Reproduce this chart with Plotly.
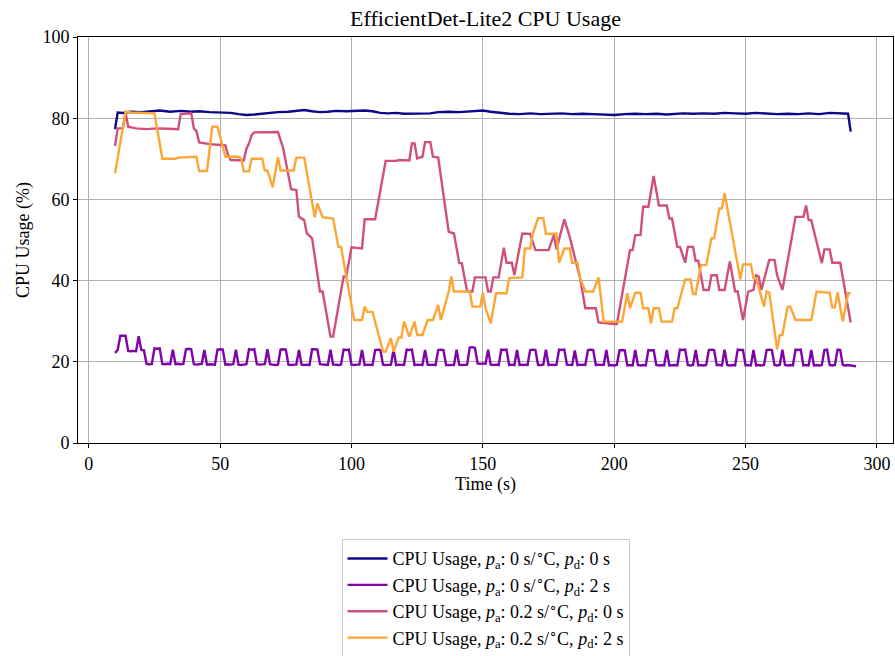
import plotly.graph_objects as go

# ---- series: pa = 0 s/°C, pd = 0 s (sampled vertices) ----
t_pa0_pd0 = [10, 11, 13, 16, 20, 24, 27, 31, 35, 39, 42, 46, 50, 54, 57, 60, 63, 67, 72, 76,
             80, 82, 85, 88, 91, 94, 98, 101, 105, 108, 111, 114, 117, 120, 124, 127, 130, 133,
             137, 141, 145, 148, 150, 153, 157, 160, 164, 168, 172, 176, 180, 184, 188, 192, 196,
             200, 204, 208, 212, 216, 220, 222, 226, 230, 234, 238, 242, 246, 250, 254, 258, 262,
             266, 270, 274, 278, 282, 286, 289, 290]
cpu_pa0_pd0 = [77.3, 81.4, 81.3, 81.6, 81.5, 81.8, 81.9, 81.6, 81.8, 81.6, 81.7, 81.5, 81.4, 81.3,
               81.0, 80.8, 80.9, 81.2, 81.5, 81.6, 81.8, 82.0, 81.7, 81.5, 81.6, 81.8, 81.7, 81.8,
               81.9, 81.7, 81.3, 81.2, 81.3, 81.1, 81.2, 81.3, 81.2, 81.5, 81.6, 81.5, 81.6, 81.8,
               81.9, 81.6, 81.3, 81.1, 81.0, 81.2, 81.0, 81.1, 81.2, 81.0, 81.1, 81.0, 80.9, 80.8,
               81.0, 81.1, 81.0, 81.1, 80.9, 81.0, 81.2, 81.1, 81.2, 81.1, 81.3, 81.2, 81.1, 81.3,
               81.2, 81.0, 81.1, 81.0, 81.2, 81.0, 81.3, 81.2, 81.1, 76.7]

# ---- series: pa = 0 s/°C, pd = 2 s (one sample per second from t = 10 s) ----
t_start_pa0_pd2 = 10
cpu_pa0_pd2 = [
    22.2, 22.9, 26.4, 26.4, 26.4, 22.7, 22.6, 22.7, 22.6, 26.3, 22.9, 22.8, 19.5, 19.4, 19.5,
    23.3, 23.2, 23.3, 19.5, 19.4, 19.5, 19.4, 23.0, 19.4, 19.5, 19.4, 19.5,
    23.1, 23.2, 23.1, 19.4, 19.3, 19.4, 19.5, 22.9, 19.3, 19.4, 19.4, 19.3,
    23.0, 23.1, 23.0, 19.3, 19.4, 19.3, 19.4, 23.0, 19.3, 19.2, 19.3, 19.4,
    23.1, 23.0, 23.1, 19.4, 19.3, 19.3, 19.4, 23.1, 19.4, 19.3, 19.2, 19.3,
    23.0, 23.1, 23.0, 19.3, 19.2, 19.3, 19.3, 22.9, 19.3, 19.2, 19.3, 19.2,
    23.1, 23.1, 23.0, 19.4, 19.3, 19.3, 19.2, 23.0, 19.3, 19.3, 19.2, 19.3,
    23.0, 22.9, 23.0, 19.3, 19.2, 19.3, 19.3, 22.9, 19.2, 19.3, 19.3, 19.2,
    22.9, 23.0, 22.9, 19.3, 19.2, 19.2, 19.3, 23.0, 19.2, 19.3, 19.2, 19.2,
    23.0, 22.9, 23.0, 19.2, 19.3, 19.2, 19.2, 22.9, 19.3, 19.2, 19.3, 19.2,
    22.9, 23.0, 22.9, 19.2, 19.2, 19.3, 19.2, 23.0, 19.3, 19.2, 19.2, 19.3,
    23.5, 23.6, 23.4, 19.6, 19.5, 19.6, 19.5, 23.0, 19.3, 19.2, 19.3, 19.2,
    23.0, 22.9, 23.0, 19.2, 19.3, 19.2, 22.9, 19.2, 19.3, 19.2, 19.2,
    22.9, 23.0, 22.9, 19.2, 19.2, 19.3, 23.0, 19.2, 19.3, 19.2, 19.3,
    23.0, 22.9, 23.0, 19.3, 19.2, 19.2, 22.8, 19.2, 19.3, 19.2, 19.2,
    22.9, 23.0, 22.9, 19.2, 19.3, 19.2, 19.2, 22.9, 19.1, 19.2, 19.1, 19.2,
    22.8, 22.9, 22.8, 19.1, 19.2, 19.1, 22.9, 19.2, 19.1, 19.2, 19.1,
    22.9, 22.8, 22.9, 19.2, 19.1, 19.2, 19.1, 22.9, 19.1, 19.2, 19.2, 19.1,
    23.0, 22.9, 23.0, 19.2, 19.1, 19.2, 22.9, 19.1, 19.2, 19.1, 19.2,
    22.9, 23.0, 22.9, 19.2, 19.2, 19.1, 23.0, 19.2, 19.1, 19.2, 19.1,
    23.0, 22.9, 22.9, 19.1, 19.2, 19.1, 22.9, 19.1, 19.2, 19.1, 19.2,
    22.9, 23.0, 22.9, 19.2, 19.1, 19.2, 23.0, 19.2, 19.1, 19.2, 19.1,
    23.0, 22.9, 23.0, 19.1, 19.2, 19.1, 22.9, 19.1, 19.2, 19.1, 19.2,
    22.9, 23.0, 19.2, 19.1, 19.2, 23.0, 22.9, 19.2, 19.1, 19.2, 19.1, 19.0, 18.9,
]
t_pa0_pd2 = list(range(t_start_pa0_pd2, t_start_pa0_pd2 + len(cpu_pa0_pd2)))

# ---- series: pa = 0.2 s/°C, pd = 0 s ----
t_pa02_pd0 = [10, 11, 13, 14, 15, 18, 22, 26, 30, 34, 35, 39, 40, 41, 42, 46, 50, 52, 53, 54,
              59, 60, 61, 62, 63, 72, 73, 74, 77, 79, 80, 82, 83, 85, 88, 89, 92, 93, 97, 98,
              100, 104, 105, 109, 113, 117, 118, 122, 123, 124, 125, 127, 128, 130, 131, 133,
              137, 139, 141, 142, 144, 146, 147, 151, 152, 153, 154, 156, 158, 159, 161, 162,
              165, 168, 170, 175, 177, 178, 181, 183, 187, 189, 193, 194, 200, 201, 206, 207,
              208, 210, 211, 213, 215, 217, 220, 221, 222, 224, 225, 227, 228, 230, 231, 232,
              234, 236, 237, 239, 240, 242, 244, 246, 247, 249, 251, 253, 254, 255, 256, 259,
              261, 262, 264, 269, 272, 273, 274, 275, 279, 280, 282, 283, 286, 290]
cpu_pa02_pd0 = [73.2, 77.5, 77.5, 81.4, 77.9, 77.5, 77.3, 77.5, 77.4, 77.3, 81.0, 81.2, 77.5,
                76.8, 74.0, 73.6, 73.4, 73.3, 71.0, 69.7, 69.6, 72.5, 73.8, 75.9, 76.5, 76.6,
                74.6, 72.6, 62.5, 62.3, 55.7, 54.9, 51.6, 50.4, 37.3, 37.3, 26.2, 26.2, 41.0,
                41.0, 48.2, 47.9, 55.1, 55.1, 69.5, 69.5, 69.7, 69.6, 73.8, 73.8, 70.1, 70.5,
                74.1, 74.1, 70.5, 70.3, 52.0, 51.6, 44.3, 44.3, 37.3, 37.3, 40.8, 40.8, 37.3,
                37.3, 40.8, 40.8, 48.1, 44.4, 44.4, 41.4, 51.6, 51.5, 47.5, 47.5, 51.2, 47.7,
                55.1, 50.9, 40.6, 33.2, 33.2, 29.7, 29.3, 29.3, 47.5, 47.5, 51.2, 51.2, 58.2,
                58.2, 65.8, 58.5, 58.5, 55.3, 55.3, 48.3, 48.3, 44.4, 48.3, 48.3, 44.9, 44.9,
                37.7, 37.7, 41.3, 41.3, 37.7, 37.7, 44.7, 37.3, 37.3, 30.3, 37.3, 37.7, 41.3,
                41.0, 37.7, 45.1, 45.1, 41.3, 37.7, 55.7, 55.7, 58.5, 54.9, 54.9, 44.3, 47.7,
                47.7, 44.4, 44.4, 29.7]

# ---- series: pa = 0.2 s/°C, pd = 2 s ----
t_pa02_pd2 = [10, 14, 15, 16, 25, 28, 33, 34, 41, 42, 45, 47, 49, 52, 57, 58, 59, 61, 62, 66,
              67, 68, 70, 72, 73, 78, 79, 82, 86, 87, 89, 93, 95, 96, 101, 104, 105, 106, 108,
              112, 113, 115, 116, 118, 119, 120, 122, 124, 125, 127, 129, 131, 133, 134, 137,
              138, 139, 145, 146, 149, 150, 151, 153, 155, 159, 160, 165, 166, 168, 169, 171,
              173, 174, 178, 179, 181, 183, 184, 186, 187, 189, 192, 194, 196, 203, 205, 206,
              208, 210, 211, 213, 214, 215, 217, 218, 222, 223, 224, 227, 229, 230, 231, 233,
              235, 237, 238, 240, 241, 242, 248, 249, 252, 253, 254, 257, 258, 259, 262, 263,
              264, 266, 267, 269, 275, 277, 282, 283, 284, 285, 287, 289, 290]
cpu_pa02_pd2 = [66.4, 81.6, 81.6, 81.4, 81.2, 70.0, 70.0, 70.3, 70.5, 67.0, 67.0, 77.9, 77.9,
                70.5, 70.5, 70.0, 66.9, 66.9, 70.0, 70.0, 67.1, 67.1, 63.0, 70.4, 67.1, 67.1,
                70.3, 70.3, 55.6, 59.0, 55.6, 55.3, 48.3, 48.3, 30.3, 30.3, 33.6, 32.3, 32.3,
                22.5, 22.5, 25.8, 22.5, 26.0, 26.0, 29.9, 26.2, 29.9, 26.6, 26.6, 30.3, 30.3,
                34.0, 30.3, 37.3, 41.0, 37.3, 37.3, 33.6, 33.6, 37.0, 33.2, 29.5, 36.9, 36.9,
                40.6, 40.8, 47.9, 47.9, 51.5, 55.4, 55.4, 51.5, 51.6, 44.4, 47.9, 47.9, 44.4,
                44.4, 40.6, 37.3, 37.3, 40.8, 29.9, 29.9, 36.9, 33.2, 37.0, 37.0, 33.2, 33.2,
                29.5, 33.2, 33.2, 29.9, 29.9, 33.2, 33.2, 40.3, 40.3, 36.7, 36.7, 43.8, 43.8,
                50.4, 50.4, 57.8, 57.8, 61.5, 40.3, 44.0, 44.0, 40.6, 40.6, 33.6, 37.3, 37.0,
                23.1, 26.6, 26.6, 33.6, 33.6, 30.3, 30.3, 37.3, 37.0, 33.4, 33.4, 37.1, 29.9,
                36.9, 36.9]

# ---- labels and styling ----
series_names = [
    "CPU Usage, <i>p</i><sub>a</sub>: 0 s/<sup>∘</sup>C, <i>p</i><sub>d</sub>: 0 s",
    "CPU Usage, <i>p</i><sub>a</sub>: 0 s/<sup>∘</sup>C, <i>p</i><sub>d</sub>: 2 s",
    "CPU Usage, <i>p</i><sub>a</sub>: 0.2 s/<sup>∘</sup>C, <i>p</i><sub>d</sub>: 0 s",
    "CPU Usage, <i>p</i><sub>a</sub>: 0.2 s/<sup>∘</sup>C, <i>p</i><sub>d</sub>: 2 s",
]
series_colors = ["#0d0887", "#7e03a8", "#d0507a", "#fca636"]
x_ticks = [0, 50, 100, 150, 200, 250, 300]
y_ticks = [0, 20, 40, 60, 80, 100]

SERIF = "Liberation Serif, Times New Roman, serif"

fig = go.Figure()
for i, (xs, ys) in enumerate([(t_pa0_pd0, cpu_pa0_pd0), (t_pa0_pd2, cpu_pa0_pd2),
                              (t_pa02_pd0, cpu_pa02_pd0), (t_pa02_pd2, cpu_pa02_pd2)]):
    fig.add_trace(go.Scatter(
        x=xs, y=ys, mode="lines", name=series_names[i], legendgroup=f"g{i}",
        line=dict(color=series_colors[i], width=2.4),
    ))

axis_common = dict(
    showline=True, linecolor="black", linewidth=1, mirror=True,
    ticks="outside", ticklen=4, tickwidth=1, tickcolor="black",
    showgrid=True, gridcolor="#b0b0b0", gridwidth=1, zeroline=False,
    tickfont=dict(family=SERIF, size=18, color="black"),
    automargin=False,
)

fig.update_layout(
    width=895, height=656,
    margin=dict(l=78, r=2, t=37, b=213, autoexpand=False),
    paper_bgcolor="white", plot_bgcolor="white",
    font=dict(family=SERIF, size=18, color="black"),
    title=dict(text="EfficientDet-Lite2 CPU Usage", x=0.5425, xanchor="center",
               y=0.972, yanchor="middle", yref="container",
               font=dict(family=SERIF, size=22, color="black")),
    xaxis=dict(range=[-4.1, 306.1], tickvals=x_ticks,
               title=dict(text="Time (s)", standoff=4, font=dict(family=SERIF, size=18)),
               **axis_common),
    yaxis=dict(range=[0, 100], tickvals=y_ticks,
               title=dict(text="CPU Usage (%)", standoff=8, font=dict(family=SERIF, size=18)),
               **axis_common),
    legend=dict(x=0.5, xanchor="center", xref="paper",
                y=0.178, yanchor="top", yref="container",
                bordercolor="#cccccc", borderwidth=1, bgcolor="white",
                font=dict(family=SERIF, size=18, color="black"),
                itemwidth=40, tracegroupgap=3, traceorder="normal"),
    showlegend=True,
)

fig.write_html("out.html")
